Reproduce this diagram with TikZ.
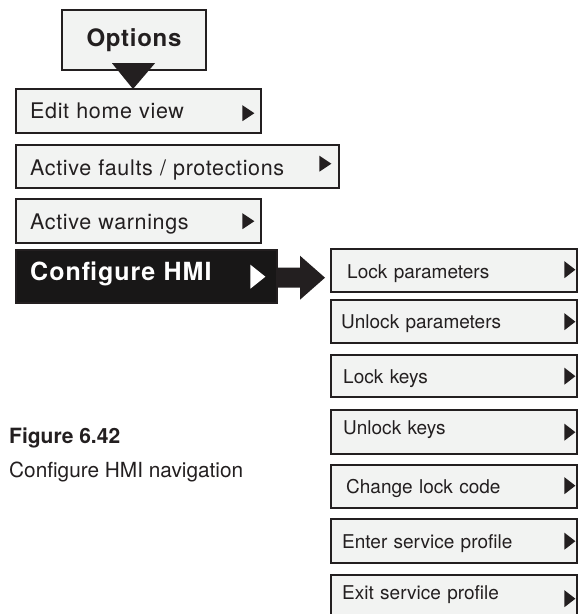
\documentclass[tikz,border=0pt]{standalone}
\usepackage{fontspec}
\setmainfont{TeX Gyre Heros}
\newfontfamily\lfont[LetterSpace=3]{TeX Gyre Heros}
\newfontfamily\cfont[LetterSpace=4]{TeX Gyre Heros}
\newfontfamily\rfont{TeX Gyre Heros}
\usetikzlibrary{calc}
\definecolor{dark}{RGB}{35,31,32}
\definecolor{light}{RGB}{242,243,242}
\definecolor{blackbox}{RGB}{24,23,23}
\tikzset{
  menubox/.style={draw=dark, line width=2.4pt, fill=light, anchor=north west,
    inner xsep=#1, inner ysep=0pt, align=left, text=dark},
  leftitem/.style={menubox=14pt, font=\lfont\fontsize{21.5}{25}\selectfont},
  rightitem/.style={menubox=#1, font=\rfont\fontsize{19}{23}\selectfont},
  optbox/.style={draw=dark, line width=2.4pt, fill=light, minimum width=144pt,
    minimum height=60pt, inner sep=0pt, text=dark,
    font=\lfont\bfseries\fontsize{24}{28}\selectfont},
  cfgbox/.style={menubox=14pt, fill=blackbox, text=white,
    font=\cfont\bfseries\fontsize{25}{29}\selectfont},
  caption/.style={anchor=base west, inner sep=0pt, text=dark},
}
\newcommand\larr[3]{\fill[dark] ($(#1.east)+(#2,#3-8)$) -- ++(0,16) -- ++(12,-8) -- cycle;}
\newcommand\rarr[3]{\fill[dark] ($(#1.east)+(#2,#3-8.5)$) -- ++(0,17) -- ++(11,-8.5) -- cycle;}
\begin{document}
\begin{tikzpicture}[x=1pt,y=-1pt]
\useasboundingbox (0,0) rectangle (578,614);

% left menu
\node[optbox] (opt) at (134,40) {Options};
\node[leftitem, text width=217pt, text height=29pt, text depth=15pt] (edit) at (15,88) {Edit home view};
\node[leftitem, text width=295pt, text height=30pt, text depth=13pt] (faults) at (15,144) {Active faults / protections};
\node[leftitem, text width=217pt, text height=30pt, text depth=14pt] (warn) at (15,198) {Active warnings};
\node[cfgbox, text width=233pt, text height=30pt, text depth=23pt] (cfg) at (15,249) {Configure HMI};

% right menu
\node[rightitem=16pt, text width=214pt, text height=29pt, text depth=14pt] (lockp) at (330,248) {Lock parameters};
\node[rightitem=10pt, text width=226pt, text height=28pt, text depth=15pt] (unlockp) at (330,299) {Unlock parameters};
\node[rightitem=12pt, text width=222pt, text height=28pt, text depth=14pt] (lockk) at (330,354) {Lock keys};
\node[rightitem=12pt, text width=222pt, text height=24pt, text depth=20pt] (unlockk) at (330,409) {Unlock keys};
\node[rightitem=15pt, text width=216pt, text height=28pt, text depth=15pt] (chg) at (330,464) {Change lock code};
\node[rightitem=11pt, text width=224pt, text height=29pt, text depth=15pt] (enter) at (330,518) {Enter service profile};
\node[rightitem=11pt, text width=224pt, text height=24pt, text depth=26pt] (exit) at (330,574) {Exit service profile};

% small arrows in boxes
\larr{edit}{-20}{2}
\larr{faults}{-21}{-3}
\larr{warn}{-20}{0}
\fill[white] ($(cfg.east)+(-28,-12)$) -- ++(0,24) -- ++(15,-12) -- cycle;
\rarr{lockp}{-14}{-1}
\rarr{unlockp}{-14}{0}
\rarr{lockk}{-14}{0}
\rarr{unlockk}{-14}{0}
\rarr{chg}{-14}{-1}
\rarr{enter}{-14}{0}
\rarr{exit}{-14}{-1.5}

% Options -> Edit home view pointer
\coordinate (optip) at ($(opt.south |- edit.north)+(-1,1)$);
\fill[dark] ($(opt.south)+(-22,-8)$) -- ($(opt.south)+(21,-8)$) -- (optip) -- cycle;

% big arrow Configure HMI -> Lock parameters
\coordinate (tip) at ($(lockp.west)+(-5,7)$);
\fill[dark] ($(cfg.east |- tip)+(-1,-10)$) -- ($(tip)+(-25,-10)$) -- ($(tip)+(-25,-22)$)
  -- (tip) -- ($(tip)+(-25,22)$) -- ($(tip)+(-25,10)$) -- ($(cfg.east |- tip)+(-1,10)$) -- cycle;

% caption
\node[caption, font=\bfseries\fontsize{21}{24}\selectfont] (fig) at (9,443) {Figure 6.42};
\node[caption, font=\fontsize{20.8}{24}\selectfont] (figcap) at (9,477) {Configure HMI navigation};
\end{tikzpicture}
\end{document}
